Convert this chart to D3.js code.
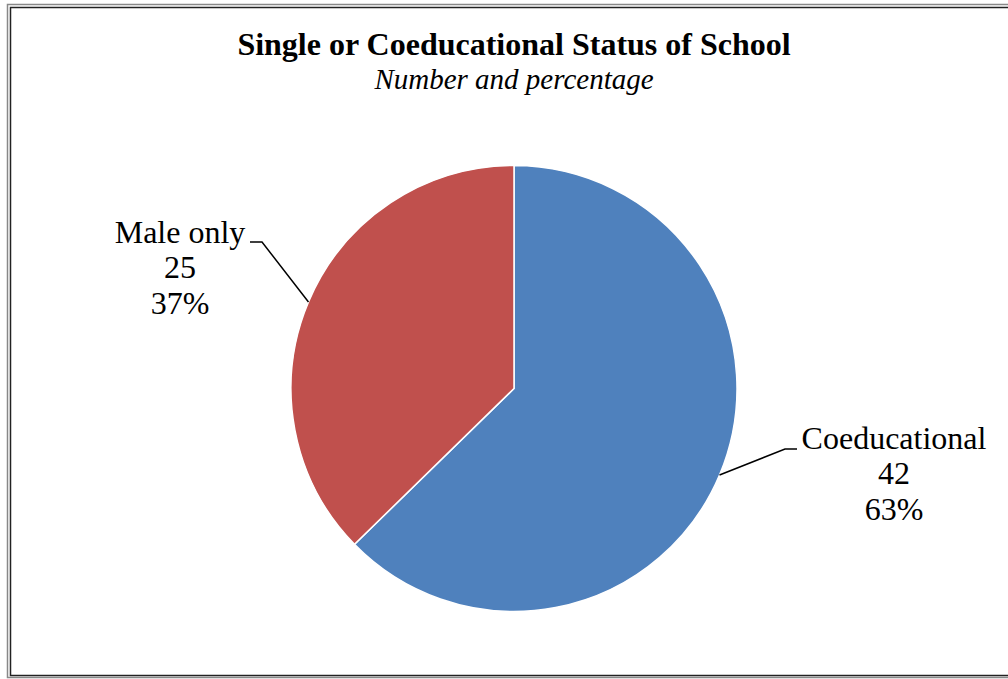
<!DOCTYPE html>
<html>
<head>
<meta charset="utf-8">
<script src="https://cdn.jsdelivr.net/npm/d3@7"></script>
<style>
  body { margin: 0; background: #fff; }
  svg text { font-family: "Liberation Serif", "Times New Roman", serif; fill: #000; }
</style>
</head>
<body>
<div class="piechart"></div>
<script>
const categories = ["Coeducational", "Male only"];
const counts = [42, 25];
const colors = ["#4F81BD", "#C0504D"];

const width = 1008, height = 679;
const cx = 514, cy = 388.5, radius = 223;

const svg = d3.select(".piechart")
    .append("svg")
    .attr("width", width)
    .attr("height", height);

// double frame
svg.append("rect")
    .attr("x", 7.5).attr("y", 4.5)
    .attr("width", 1010).attr("height", 673)
    .attr("fill", "none")
    .attr("stroke", "#888")
    .attr("stroke-width", 1.5);
svg.append("rect")
    .attr("x", 10.5).attr("y", 7.5)
    .attr("width", 1010).attr("height", 668)
    .attr("fill", "none")
    .attr("stroke", "#222")
    .attr("stroke-width", 1.5);

svg.append("text")
    .attr("x", 514).attr("y", 55)
    .attr("text-anchor", "middle")
    .style("font-size", "32px")
    .style("font-weight", "bold")
    .text("Single or Coeducational Status of School");

svg.append("text")
    .attr("x", 514).attr("y", 89)
    .attr("text-anchor", "middle")
    .style("font-size", "29px")
    .style("font-style", "italic")
    .text("Number and percentage");

const total = d3.sum(counts);
const data = categories.map((c, i) => ({ name: c, value: counts[i], color: colors[i] }));

const pie = d3.pie().value(d => d.value).sort(null);
const arc = d3.arc().innerRadius(0).outerRadius(radius);
const arcs = pie(data);

const g = svg.append("g").attr("transform", `translate(${cx},${cy})`);

g.selectAll("path")
    .data(arcs)
    .enter()
    .append("path")
    .attr("d", arc)
    .attr("fill", d => d.data.color)
    .attr("stroke", "#fff")
    .attr("stroke-width", 1.5);

// label layout: elbow point of leader line and text anchor, relative to centre
const labelLayout = [
    { elbow: [271, 60.5], end: [283, 60.5], text: [380, 60] },
    { elbow: [-252, -146.5], end: [-264, -146.5], text: [-334, -146] }
];

arcs.forEach((a, i) => {
    const mid = (a.startAngle + a.endAngle) / 2;
    const p0 = [radius * Math.sin(mid), -radius * Math.cos(mid)];
    const L = labelLayout[i];
    g.append("path")
        .attr("d", d3.line()([p0, L.elbow, L.end]))
        .attr("fill", "none")
        .attr("stroke", "#000")
        .attr("stroke-width", 1.5);
    const t = g.append("text")
        .attr("text-anchor", "middle")
        .style("font-size", "32px");
    const lines = [a.data.name, a.data.value, Math.round(a.data.value / total * 100) + "%"];
    lines.forEach((s, j) => {
        t.append("tspan")
            .attr("x", L.text[0])
            .attr("y", L.text[1] + j * 35.5)
            .text(s);
    });
});
</script>
</body>
</html>
